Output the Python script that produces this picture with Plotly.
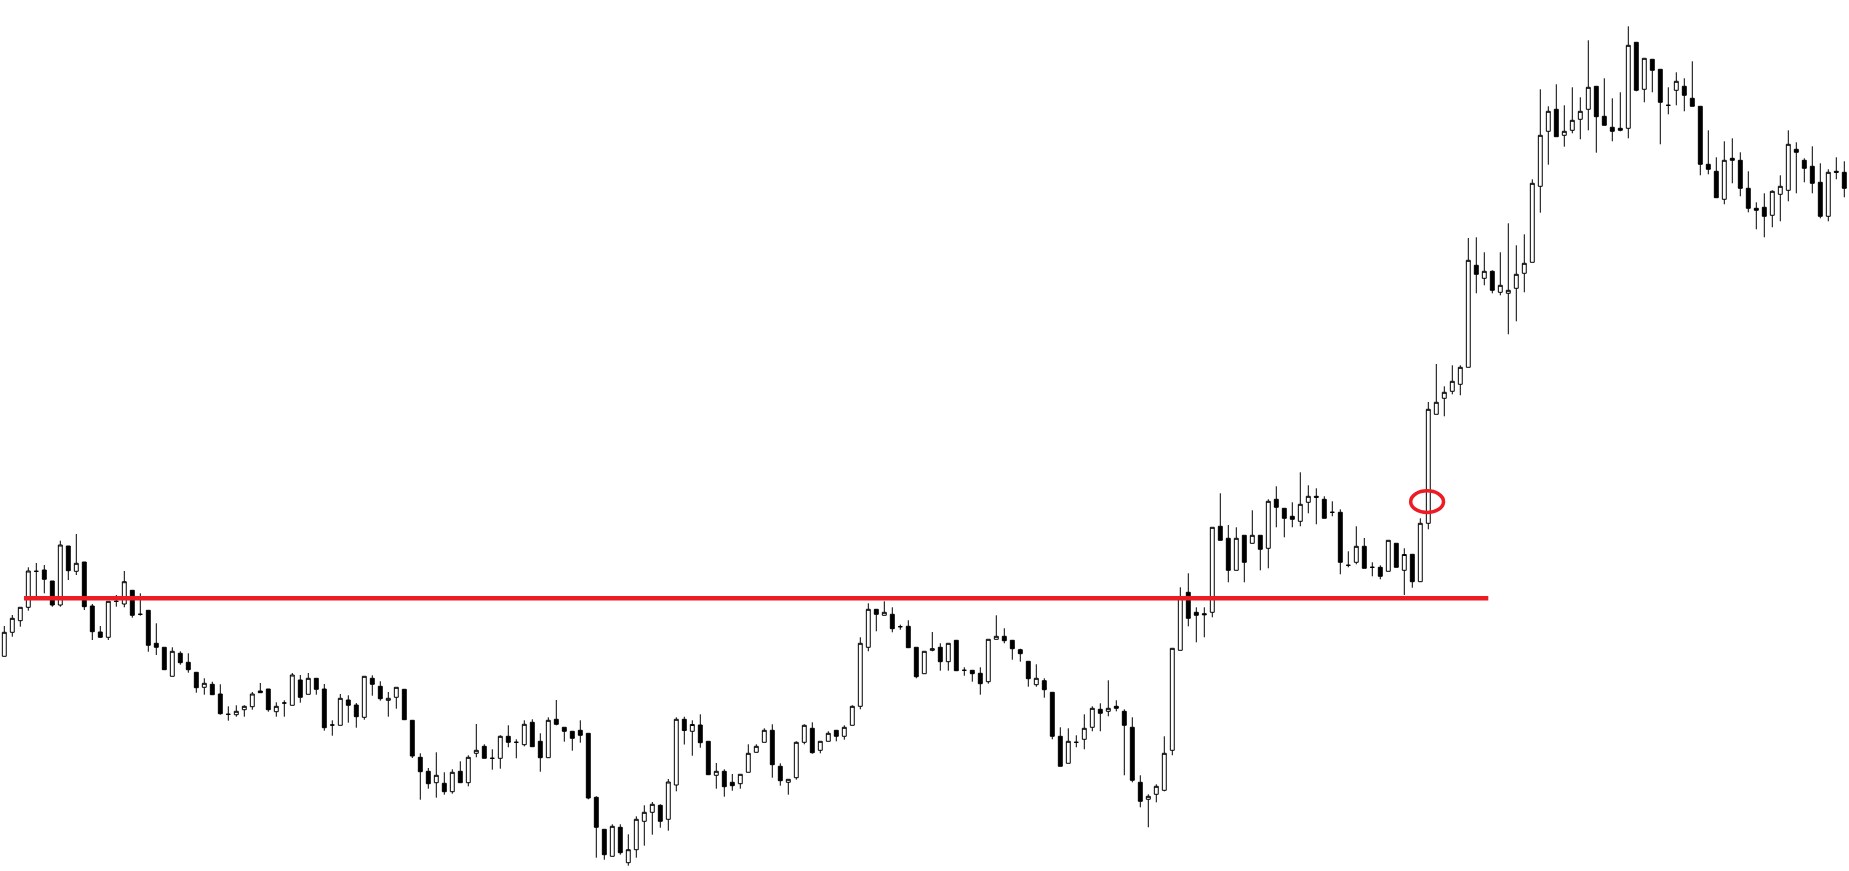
import plotly.graph_objects as go

# ---- data ----
OPEN = [
    343.7, 367.7, 379.3, 392.7, 428.7, 430, 419, 395, 454, 428.7,
    438, 394, 368, 362.7, 398.7, 396, 409.7, 385.7, 389.7, 356.7,
    352.7, 323.7, 346.7, 337.7, 327.7, 312.7, 315.7, 306, 285.7, 285.3,
    290.3, 293.3, 309, 311, 288.3, 297, 294.7, 320, 305.7, 321.7,
    311, 275, 274.7, 300, 295, 282.7, 321.7, 313.7, 299.7, 302.7,
    310.7, 279.7, 242.7, 228.7, 217.3, 216.7, 208.3, 228.7, 217.3, 246.7,
    253.7, 241.7, 241.7, 263.7, 257.7, 255.3, 277.7, 258.7, 242.3, 280.7,
    272.7, 268.7, 269.7, 266.7, 202.7, 170.7, 143.7, 172.7, 137.3, 150.3,
    178.7, 187.7, 194.7, 180.7, 215, 280.7, 268.7, 275, 258.7, 224.7,
    228.7, 217.7, 216.3, 227.7, 247.7, 257.7, 269.7, 233.7, 217.7, 222.3,
    257.7, 271.7, 249.7, 258.7, 269.7, 263.7, 274.7, 293.7, 352.7, 390.7,
    384.7, 385.7, 373.3, 373.7, 352.7, 326.3, 349.7, 352.7, 338.3, 359.7,
    329.7, 329.7, 326.7, 318.3, 360.7, 363.7, 359.7, 350.3, 338.7, 315.3,
    319.3, 307.7, 263.7, 236.7, 257.7, 260.7, 272.7, 290.7, 288.7, 293.7,
    288.7, 272.7, 217.7, 200.7, 205.7, 209.7, 249.7, 349.7, 407.7, 387.7,
    386.3, 387.7, 473.7, 461.7, 429.7, 464.7, 456.7, 464.7, 451.7, 500.7,
    491.7, 483.7, 478.7, 497.7, 503.7, 500.7, 487.7, 487.7, 434.7, 437.7,
    453.7, 432.7, 432.7, 428.7, 456.7, 429.7, 445.7, 418.3, 476.7, 585.7,
    601.7, 608.7, 615.7, 632.7, 734.7, 721.7, 728.7, 707.7, 706.7, 711.7,
    726.7, 737.7, 813.7, 868.7, 890.7, 864.7, 869.7, 880.7, 890.7, 913.7,
    883.7, 872.7, 871.7, 871.7, 957.7, 910.7, 940.7, 930.7, 894.7, 909.7,
    913.7, 901.7, 893.7, 835.7, 828.7, 800.7, 841.7, 839.7, 811.7, 791.7,
    792.7, 784.7, 805.7, 809.7, 850.7, 839.7, 833.7, 817.7, 783.7, 828.7,
    827.7,
]

HIGH = [
    374, 385, 392.7, 432.7, 437, 435, 419, 459.3, 454, 466,
    438, 396, 374, 398.7, 405, 429, 409.7, 406.7, 389.7, 376.7,
    352.7, 352.7, 348.7, 346.7, 327.7, 321.7, 318.3, 315.7, 293.7, 294.7,
    294.7, 308, 317, 311, 297.7, 299.7, 327, 325, 327, 321.7,
    316, 279.7, 306, 304.7, 297, 323.7, 324.7, 318.7, 308, 312.7,
    310.7, 279.7, 246.7, 232, 247.7, 227.7, 230.7, 238.7, 244.7, 276,
    255.7, 250.7, 264.7, 274.7, 260.7, 279.7, 280.7, 266.7, 282.7, 300,
    272.7, 268.7, 279.7, 266.7, 203.7, 170.7, 175.7, 175.7, 165.7, 183.7,
    194.7, 198, 195.7, 221, 282.7, 283.3, 279.7, 285.7, 258.7, 237,
    230.7, 226, 225.7, 255.7, 255.7, 271.7, 275.7, 236.7, 220.7, 258.7,
    275.7, 277.7, 258.7, 268.7, 269.7, 274.7, 294.7, 362.7, 396.7, 390.7,
    398.7, 392.7, 375.3, 379.7, 352.7, 348.7, 368, 356.7, 356.7, 359.7,
    332.7, 329.7, 332.7, 360.7, 384.7, 371.7, 359.7, 351.3, 338.7, 335.7,
    321.7, 307.7, 272.7, 271.7, 264.7, 285.7, 293.7, 296.7, 319.7, 299.7,
    290.7, 282.7, 224.7, 205.7, 215.7, 263.7, 351.7, 412.7, 426.7, 392.7,
    392.7, 472.7, 506.7, 475, 472.7, 464.7, 489.7, 464.7, 500.7, 513.7,
    491.7, 497.7, 527.7, 514.7, 511.7, 503.7, 498.7, 490.7, 448.7, 473.7,
    462, 437.7, 434.7, 459.7, 456.7, 451.7, 445.7, 481.7, 598, 636,
    613.7, 634.7, 634.7, 762, 762.7, 747.7, 729.7, 747.7, 776.7, 754.7,
    765.7, 820.7, 910.7, 893.7, 915.7, 894.7, 912.7, 902.7, 959.7, 913.7,
    921.7, 901.7, 907.7, 973.7, 957.7, 941.7, 940.7, 930.7, 912.7, 927.7,
    921.7, 938.7, 893.7, 869.7, 842.7, 858.7, 861.7, 847.7, 828.7, 797.7,
    806.7, 809.7, 824.7, 869.7, 857.7, 841.7, 853.7, 836.7, 830.7, 842.7,
    838.7,
]

LOW = [
    343.7, 363.3, 373.3, 389.3, 403.3, 406.7, 393.3, 393.3, 420, 425,
    390, 360, 362, 360, 393.3, 392.7, 382.3, 384.3, 348.3, 345,
    330.3, 323.7, 335.3, 327.3, 307.3, 305.3, 305.3, 285.3, 279.3, 283.3,
    283.3, 290.3, 307.3, 288.3, 283.3, 283.3, 294.7, 297.3, 305.7, 305.3,
    269.3, 264.3, 274.7, 277.3, 272.3, 280.3, 304.3, 299.3, 283.3, 291.3,
    280.3, 242, 200.3, 211.3, 202.3, 205.3, 206.3, 217.3, 213.7, 242.7,
    241.7, 230.3, 231.3, 252.7, 241.7, 253.7, 253.3, 228.3, 242.3, 274.7,
    258.3, 249.3, 257.3, 200.7, 142.3, 140.3, 143.7, 145.3, 134.3, 142.3,
    154.3, 165.3, 172.3, 169.3, 208.7, 255.5, 244.3, 252.3, 225.3, 211.3,
    203.3, 209.3, 211.3, 227.7, 247.7, 257.7, 222.3, 214.3, 205.3, 220.3,
    255.7, 246.3, 246.7, 258.7, 258.7, 260.3, 274.7, 290.7, 348.7, 368.7,
    384.7, 367.7, 370.3, 352.3, 321.7, 326.3, 348.7, 329.3, 329.3, 329.3,
    324.3, 318.3, 305.3, 316.3, 360.7, 356.7, 340.3, 338.3, 313.3, 313.3,
    302.3, 260.7, 233.7, 236.7, 252.7, 250.7, 268.7, 268.7, 283.7, 288.7,
    224.7, 217.7, 192.7, 172.7, 197.7, 208.7, 244.7, 349.7, 373.7, 357.7,
    362.7, 382.7, 459.7, 417.7, 429.7, 417.7, 456.7, 429.7, 431.7, 472.7,
    462.7, 472.7, 473.7, 486.7, 475.7, 481.7, 483.7, 425.7, 432.7, 435.7,
    431.7, 423.7, 420.7, 428.7, 432.7, 405, 412.3, 418.3, 470.7, 585.7,
    583.7, 605.7, 604.7, 632.7, 706.7, 714.7, 706.7, 704.7, 665.7, 678.7,
    707.7, 737.7, 787.3, 835.3, 863.3, 853.3, 866.7, 860.7, 869.7, 847.3,
    874.7, 858.7, 868.7, 861.7, 908.7, 897.7, 907.7, 855.7, 885.7, 894.7,
    888.7, 893.7, 824.7, 825.7, 802.3, 795.7, 816.7, 803.7, 787.7, 770.7,
    762.7, 772.7, 778.7, 798.7, 806.7, 817.7, 806.7, 781.7, 778.7, 820.7,
    802.7,
]

CLOSE = [
    367.7, 381.7, 392.7, 429, 428.7, 420.7, 395, 455, 429.3, 436.7,
    393.3, 368.3, 362.7, 398.7, 398.7, 418.3, 384.7, 385.7, 354.7, 352.7,
    330.3, 348.7, 337.3, 330.3, 312.3, 316.7, 305.3, 286.3, 285.7, 288.7,
    293.7, 306, 307.3, 290.3, 293.7, 297, 325, 302.7, 321.7, 310.7,
    272.3, 275, 301.7, 294.7, 283.3, 323.7, 315.7, 301.3, 301.7, 312.7,
    280.3, 244, 228.3, 216.3, 224.7, 208.3, 227.7, 217.3, 242.7, 249.7,
    241.7, 241.7, 263.7, 257.7, 257.7, 275.7, 253.3, 242.3, 279.7, 275.7,
    268.7, 261.7, 264.7, 202, 172.7, 145.3, 173.7, 147.3, 150.3, 180.7,
    187.7, 195.7, 178.7, 218, 280.7, 269.5, 275.5, 257.3, 225.3, 228.7,
    213.3, 214.3, 225.7, 246.7, 253.7, 269.7, 235.3, 219.3, 220.7, 257.7,
    274.7, 247.3, 258.7, 266.7, 263.7, 272.7, 293.7, 356.7, 390.7, 385.7,
    387.7, 371.3, 373.3, 352.3, 323.3, 348.7, 351.3, 338.3, 356.7, 329.3,
    329.7, 326.3, 316.3, 360.7, 363.7, 359.3, 351.3, 346.3, 321.3, 321.7,
    310.3, 263.7, 233.7, 258.7, 257.7, 271.7, 291.7, 286.7, 291.7, 291.7,
    274.7, 219.7, 198.7, 203.7, 213.7, 246.7, 351.7, 402.7, 381.7, 384.7,
    385.3, 472.7, 459.7, 429.7, 461.7, 437.7, 464.7, 450.7, 498.7, 492.7,
    481.7, 480.7, 495.7, 503.7, 502.7, 481.7, 487.7, 437.7, 434.7, 453.7,
    431.7, 432.7, 423.7, 459.7, 432.7, 445.5, 418.3, 476.7, 590.7, 597.7,
    607.7, 618.7, 632.7, 739.7, 725.7, 728.7, 709.7, 714.7, 709.7, 725.7,
    736.7, 816.7, 864.7, 888.7, 863.3, 868.7, 879.7, 888.7, 912.7, 883.3,
    874.7, 868.7, 869.7, 954.7, 909.7, 941.7, 929.7, 897.7, 894.7, 918.7,
    904.7, 893.7, 835.7, 830.7, 802.3, 839.7, 839.7, 811.7, 791.7, 789.7,
    783.7, 808.7, 813.7, 855.7, 847.7, 831.7, 816.7, 783.7, 827.7, 827.7,
    811.7,
]

BARS = list(range(len(CLOSE)))

# horizontal level and highlighted breakout
LEVEL_PRICE = 401.7
LEVEL_FROM_BAR = 2.46
LEVEL_TO_BAR = 185.5
MARK_BAR = 177.85
MARK_PRICE = 498.35
MARK_HALF_BARS = 2.05
MARK_HALF_PRICE = 10.85

RED = "#ED1C24"

fig = go.Figure(
    go.Candlestick(
        x=BARS, open=OPEN, high=HIGH, low=LOW, close=CLOSE,
        increasing=dict(line=dict(color="black", width=1), fillcolor="white"),
        decreasing=dict(line=dict(color="black", width=1), fillcolor="black"),
        whiskerwidth=0,
        hoverinfo="skip",
    )
)

fig.add_shape(type="line", xref="x", yref="y",
              x0=LEVEL_FROM_BAR, x1=LEVEL_TO_BAR, y0=LEVEL_PRICE, y1=LEVEL_PRICE,
              line=dict(color=RED, width=4.5))
fig.add_shape(type="circle", xref="x", yref="y",
              x0=MARK_BAR - MARK_HALF_BARS, x1=MARK_BAR + MARK_HALF_BARS,
              y0=MARK_PRICE - MARK_HALF_PRICE, y1=MARK_PRICE + MARK_HALF_PRICE,
              line=dict(color=RED, width=3.5))

fig.update_layout(
    width=1849, height=871,
    margin=dict(l=0, r=0, t=0, b=0, pad=0),
    paper_bgcolor="white", plot_bgcolor="white",
    showlegend=False,
    xaxis=dict(range=[-0.5375, 230.5875], visible=False, showgrid=False,
               zeroline=False, rangeslider=dict(visible=False), fixedrange=True),
    yaxis=dict(range=[129, 1000], visible=False, showgrid=False,
               zeroline=False, fixedrange=True),
)

fig.write_html("out.html", config={"displayModeBar": False},
               post_script="document.body.style.margin='0';document.body.style.overflow='hidden';")
